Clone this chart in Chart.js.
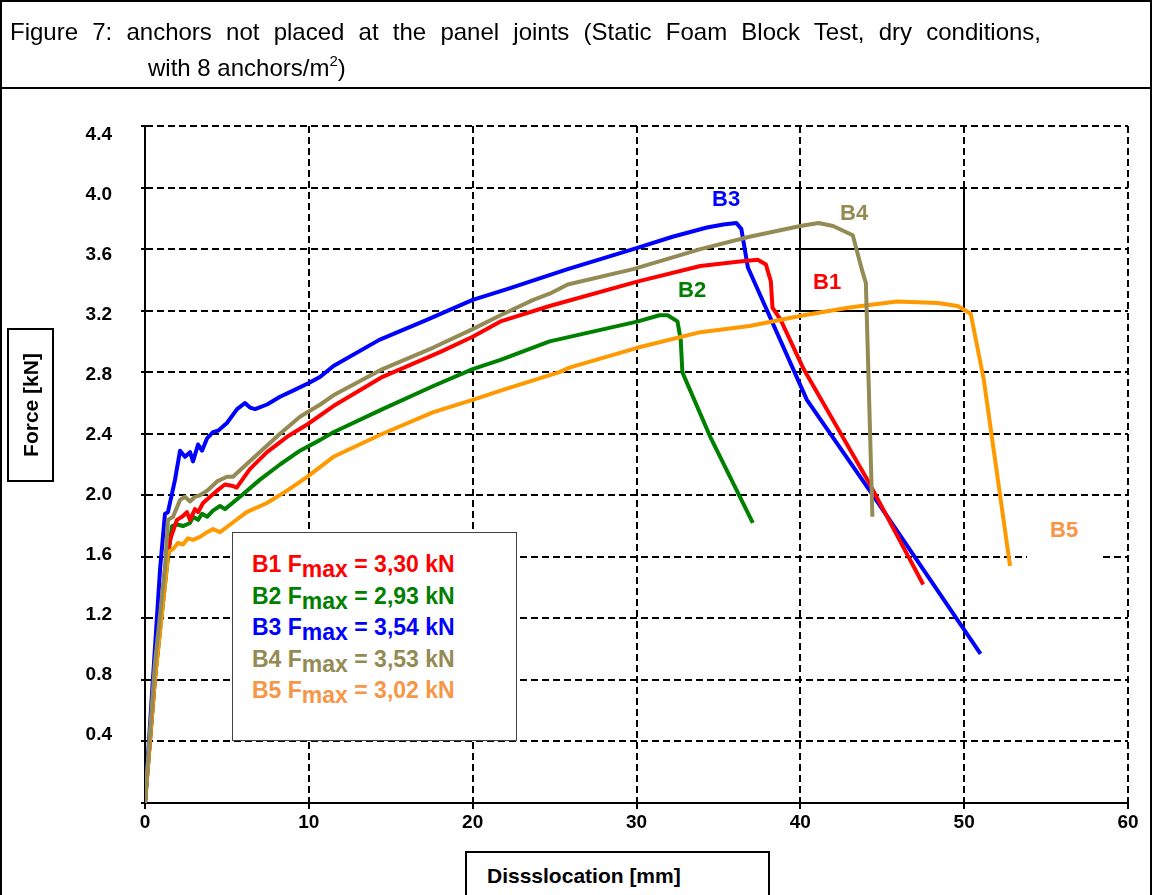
<!DOCTYPE html>
<html><head><meta charset="utf-8">
<script src="https://cdn.jsdelivr.net/npm/chart.js@4.4.1/dist/chart.umd.min.js"></script>
<style>
html,body{margin:0;padding:0;background:#fff;}
body{width:1152px;height:895px;position:relative;overflow:hidden;font-family:"Liberation Sans",Arial,sans-serif;color:#000;}
#c{position:absolute;left:0;top:0;width:1152px;height:895px;}
.frame{position:absolute;left:0;top:0;width:1152px;height:910px;box-sizing:border-box;border:2px solid #000;pointer-events:none;}
.titlebar{position:absolute;left:0;top:87px;width:1152px;height:2px;background:#000;}
.title{position:absolute;left:10px;top:14px;width:1031px;font-size:24px;line-height:36px;}
.title .l1{text-align:justify;text-align-last:justify;white-space:normal;}
.title .l2{padding-left:138px;white-space:nowrap;}
.title sup{font-size:15px;vertical-align:0;position:relative;top:-10px;}
.ytitle{position:absolute;left:7px;top:328px;width:47px;height:154px;box-sizing:border-box;border:2px solid #000;background:#fff;}
.ytitle span{position:absolute;left:50%;top:50%;transform:translate(-50%,-50%) rotate(-90deg);font-weight:bold;font-size:21px;white-space:nowrap;}
.xtitle{position:absolute;left:465px;top:851px;width:305px;height:70px;box-sizing:border-box;border:2px solid #000;background:#fff;padding:12px 0 0 20px;font-weight:bold;font-size:21px;line-height:21px;white-space:nowrap;}
.legend{position:absolute;left:232px;top:532px;width:285px;height:209px;box-sizing:border-box;border:1px solid #404040;background:#fff;padding:16px 0 0 19px;}
.legend div{font-weight:bold;font-size:23px;line-height:31.5px;white-space:nowrap;}
.legend .sub{position:relative;top:5px;}
.slabel{position:absolute;font-weight:bold;font-size:22px;line-height:22px;white-space:nowrap;}
</style>
</head>
<body>
<canvas id="c" width="1152" height="895"></canvas>
<div class="frame"></div>
<div class="titlebar"></div>
<div class="title"><div class="l1">Figure 7: anchors not placed at the panel joints (Static Foam Block Test, dry conditions,</div><div class="l2">with 8 anchors/m<sup>2</sup>)</div></div>
<div class="ytitle"><span>Force [kN]</span></div>
<div class="xtitle">Dissslocation [mm]</div>
<div class="legend" id="legend"></div>
<script>
// ---- data ----
const seriesNames = ['B1', 'B2', 'B3', 'B4', 'B5'];
const fmaxValues = ['3,30', '2,93', '3,54', '3,53', '3,02'];

const b1X = [0, 0.6, 1.22, 1.53, 1.95, 2.26, 2.56, 2.75, 3.05, 3.24, 3.54, 3.97, 4.4, 4.88, 5.37, 5.6, 5.8, 6.4, 7.45, 8.67, 9.9, 11.5, 14.5, 18.0, 20.0, 21.7, 24.7, 30.1, 33.9, 36.3, 37.4, 37.9, 38.2, 38.3, 38.8, 40.2, 44.1, 47.5];
const b1Y = [0, 0.8, 1.52, 1.71, 1.84, 1.86, 1.89, 1.84, 1.91, 1.89, 1.95, 1.99, 2.03, 2.07, 2.06, 2.05, 2.08, 2.17, 2.28, 2.38, 2.46, 2.58, 2.77, 2.93, 3.03, 3.13, 3.23, 3.39, 3.49, 3.52, 3.53, 3.50, 3.39, 3.22, 3.14, 2.82, 2.10, 1.42];

const b2X = [0, 0.6, 1.34, 1.65, 1.95, 2.32, 2.75, 2.93, 3.24, 3.48, 3.79, 4.15, 4.58, 4.88, 5.8, 7.0, 8.24, 9.46, 10.7, 11.5, 14.5, 17.6, 20.0, 21.7, 24.7, 30.1, 31.4, 31.9, 32.5, 32.7, 32.8, 33.0, 34.5, 37.1];
const b2Y = [0, 0.8, 1.54, 1.80, 1.81, 1.80, 1.82, 1.86, 1.84, 1.88, 1.86, 1.90, 1.93, 1.91, 1.99, 2.10, 2.20, 2.29, 2.36, 2.41, 2.56, 2.71, 2.82, 2.88, 3.00, 3.13, 3.17, 3.17, 3.13, 3.01, 2.80, 2.75, 2.38, 1.82];

const b3X = [0, 0.45, 0.92, 1.22, 1.40, 1.83, 2.14, 2.44, 2.75, 2.93, 3.24, 3.48, 3.79, 4.15, 4.46, 5.0, 5.62, 6.1, 6.41, 6.72, 7.45, 8.24, 9.04, 10.0, 10.7, 11.5, 14.3, 17.2, 20.0, 22.1, 25.8, 30.1, 32.2, 34.3, 35.3, 36.1, 36.4, 36.8, 40.4, 44.3, 51.0];
const b3Y = [0, 0.75, 1.52, 1.88, 1.89, 2.10, 2.29, 2.25, 2.28, 2.22, 2.33, 2.29, 2.37, 2.41, 2.42, 2.47, 2.56, 2.60, 2.57, 2.56, 2.59, 2.64, 2.68, 2.73, 2.77, 2.84, 3.01, 3.14, 3.27, 3.34, 3.47, 3.61, 3.68, 3.74, 3.76, 3.77, 3.73, 3.48, 2.62, 2.02, 0.97];

const b4X = [0, 0.6, 1.22, 1.40, 1.71, 2.14, 2.44, 2.75, 3.05, 3.36, 3.79, 4.4, 5.0, 5.37, 5.98, 7.0, 8.24, 9.46, 10.7, 11.5, 14.5, 17.6, 20.0, 21.7, 23.7, 24.7, 25.8, 29.8, 33.9, 36.9, 40.0, 41.1, 42.0, 43.2, 43.8, 44.0, 44.4];
const b4Y = [0, 0.9, 1.53, 1.84, 1.86, 1.97, 1.99, 1.96, 1.99, 2.00, 2.03, 2.09, 2.12, 2.12, 2.18, 2.28, 2.40, 2.51, 2.59, 2.65, 2.82, 2.96, 3.08, 3.17, 3.27, 3.31, 3.37, 3.47, 3.60, 3.68, 3.75, 3.77, 3.75, 3.69, 3.45, 3.38, 1.86];

const b5X = [0, 0.6, 1.34, 1.40, 1.71, 2.01, 2.32, 2.62, 2.93, 3.36, 3.79, 4.15, 4.58, 5.2, 6.2, 7.45, 8.67, 9.9, 11.5, 14.5, 17.6, 20.0, 21.7, 25.3, 25.9, 30.1, 33.9, 36.9, 40.2, 43.0, 45.9, 48.4, 49.6, 50.4, 51.2, 52.8];
const b5Y = [0, 0.8, 1.54, 1.63, 1.65, 1.69, 1.68, 1.72, 1.71, 1.73, 1.76, 1.78, 1.76, 1.81, 1.89, 1.95, 2.03, 2.12, 2.25, 2.40, 2.54, 2.62, 2.68, 2.80, 2.83, 2.96, 3.06, 3.10, 3.17, 3.22, 3.26, 3.25, 3.23, 3.18, 2.75, 1.54];

const xTickValues = [0, 10, 20, 30, 40, 50, 60];
const yGridValues = [0, 0.4, 0.8, 1.2, 1.6, 2.0, 2.4, 2.8, 3.2, 3.6, 4.0, 4.4];
const yTickLabels = ['0.4', '0.8', '1.2', '1.6', '2.0', '2.4', '2.8', '3.2', '3.6', '4.0', '4.4'];
// solid (non-dashed) grid pieces visible in the reference, in data units [x1,y1,x2,y2]
const solidGridSegments = [[40, 4.0, 40, 3.2], [50, 4.0, 50, 3.2], [40, 3.6, 50, 3.6], [40, 3.2, 50, 3.2]];

// ---- styles ----
const lineColors = {B1: '#FF0000', B2: '#008000', B3: '#0000FF', B4: '#948A54', B5: '#FF9900'};
const textColors = {B1: '#FF0000', B2: '#008000', B3: '#0000FF', B4: '#948A54', B5: '#F79646'};
const labelPos = {B1: [813, 271], B2: [678, 279], B3: [712, 188], B4: [840, 202], B5: [1050, 519]};

const seriesData = {B1: [b1X, b1Y], B2: [b2X, b2Y], B3: [b3X, b3Y], B4: [b4X, b4Y], B5: [b5X, b5Y]};
const drawOrder = ['B4', 'B5', 'B1', 'B3', 'B2']; // first = on top

const datasets = drawOrder.map(name => ({
  label: name,
  data: seriesData[name][0].map((x, i) => ({x: x, y: seriesData[name][1][i]})),
  borderColor: lineColors[name],
  backgroundColor: lineColors[name],
  borderWidth: 4,
  pointRadius: 0,
  showLine: true,
  tension: 0,
  borderJoinStyle: 'round',
  yAxisID: 'y'
}));

// legend box & series labels
const legendEl = document.getElementById('legend');
seriesNames.forEach((n, i) => {
  const d = document.createElement('div');
  d.style.color = textColors[n];
  d.innerHTML = n + ' F<span class="sub">max</span> = ' + fmaxValues[i] + ' kN';
  legendEl.appendChild(d);
});
seriesNames.forEach(n => {
  const d = document.createElement('div');
  d.className = 'slabel';
  d.style.color = textColors[n];
  d.textContent = n;
  if (n === 'B5') {
    d.style.left = (labelPos[n][0] - 23) + 'px';
    d.style.top = (labelPos[n][1] - 14) + 'px';
    d.style.width = '76px';
    d.style.height = '56px';
    d.style.background = '#fff';
    d.style.paddingLeft = '23px';
    d.style.paddingTop = '14px';
    d.style.boxSizing = 'border-box';
  } else {
    d.style.left = labelPos[n][0] + 'px';
    d.style.top = labelPos[n][1] + 'px';
  }
  document.body.appendChild(d);
});

const solidPlugin = {
  id: 'solidGrid',
  beforeDatasetsDraw(chart) {
    const {ctx, scales} = chart;
    const sx = scales.x, sy = scales.y;
    ctx.save();
    ctx.strokeStyle = '#000';
    ctx.lineWidth = 2;
    ctx.setLineDash([]);
    solidGridSegments.forEach(s => {
      ctx.beginPath();
      ctx.moveTo(Math.round(sx.getPixelForValue(s[0])), Math.round(sy.getPixelForValue(s[1])));
      ctx.lineTo(Math.round(sx.getPixelForValue(s[2])), Math.round(sy.getPixelForValue(s[3])));
      ctx.stroke();
    });
    ctx.restore();
  }
};

const tickFont = {family: '"Liberation Sans", Arial, sans-serif', size: 19, weight: 'bold'};
const gridDash = [7, 4];

new Chart(document.getElementById('c'), {
  type: 'scatter',
  data: {datasets: datasets},
  plugins: [solidPlugin],
  options: {
    responsive: false,
    animation: false,
    devicePixelRatio: 1,
    layout: {padding: {left: 0, right: 24, top: 126, bottom: 0}},
    plugins: {legend: {display: false}, tooltip: {enabled: false}, title: {display: false}},
    elements: {point: {radius: 0}},
    scales: {
      x: {
        type: 'linear', position: 'bottom', min: 0, max: 60,
        afterBuildTicks: a => { a.ticks = xTickValues.map(v => ({value: v})); },
        afterFit: s => { s.height = 92; },
        grid: {color: '#000', lineWidth: 2, drawTicks: true, tickLength: 6, tickColor: '#000', tickWidth: 2, tickBorderDash: []},
        border: {display: true, color: '#000', width: 2, dash: gridDash},
        ticks: {color: '#000', font: tickFont, padding: 2, maxRotation: 0, autoSkip: false,
          callback: v => String(v)}
      },
      y: {
        type: 'linear', position: 'left', weight: 0, min: 0, max: 4.4,
        afterBuildTicks: a => { a.ticks = yGridValues.map(v => ({value: v})); },
        afterFit: s => { s.width = 0; },
        grid: {color: '#000', lineWidth: 2, drawTicks: true, tickLength: 4, tickColor: '#000', tickWidth: 2, tickBorderDash: []},
        border: {display: true, color: '#000', width: 2, dash: gridDash},
        ticks: {display: false}
      },
      yLab: {
        type: 'linear', position: 'left', weight: 1, min: -0.0533, max: 4.46,
        afterBuildTicks: a => { a.ticks = yTickLabels.map(v => ({value: parseFloat(v)})); },
        afterFit: s => { s.width = 145; },
        grid: {display: false, drawTicks: false},
        border: {display: false},
        ticks: {color: '#000', font: tickFont, padding: 33, autoSkip: false,
          callback: (v, i) => yTickLabels[i]}
      }
    }
  }
});
</script>
</body></html>
